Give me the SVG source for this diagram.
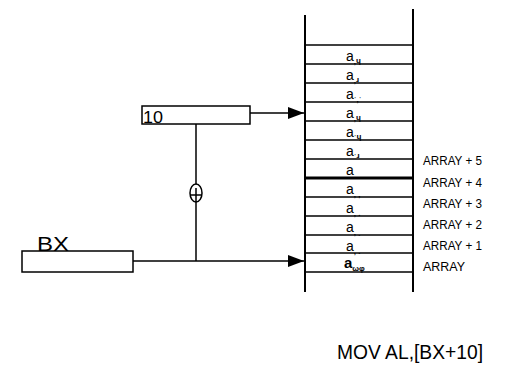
<svg xmlns="http://www.w3.org/2000/svg" width="518" height="373" viewBox="0 0 518 373">
<defs>
<style>
.ln{stroke:#000;stroke-width:1.5;fill:none}
.col{stroke:#000;stroke-width:2;fill:none}
.box{stroke:#000;stroke-width:1.5;fill:#fff}
.t{font-family:"Liberation Sans",Arial,sans-serif;fill:#000}
.a{font-family:"Liberation Sans",Arial,sans-serif;font-size:14px;fill:#000}
.s{font-size:8px;font-weight:bold}
.lbl{font-family:"Liberation Sans",Arial,sans-serif;font-size:12.5px;fill:#000}
</style>
<marker id="ah" markerWidth="16" markerHeight="12" refX="16" refY="6" orient="auto" markerUnits="userSpaceOnUse">
<path d="M0,0 L16,6 L0,12 Z" fill="#000"/>
</marker>
</defs>
<rect width="518" height="373" fill="#fff"/>
<g id="memory">
<line class="col" x1="305" y1="15" x2="305" y2="292"/>
<line class="col" x1="413" y1="9" x2="413" y2="292"/>
<g class="ln">
<line x1="305" y1="45" x2="413" y2="45"/>
<line x1="305" y1="64" x2="413" y2="64"/>
<line x1="305" y1="83" x2="413" y2="83"/>
<line x1="305" y1="102" x2="413" y2="102"/>
<line x1="305" y1="121" x2="413" y2="121"/>
<line x1="305" y1="140" x2="413" y2="140"/>
<line x1="305" y1="159" x2="413" y2="159"/>
<line x1="305" y1="178" x2="413" y2="178" stroke-width="3"/>
<line x1="305" y1="197" x2="413" y2="197"/>
<line x1="305" y1="216" x2="413" y2="216"/>
<line x1="305" y1="235" x2="413" y2="235"/>
<line x1="305" y1="253" x2="413" y2="253"/>
<line x1="305" y1="272" x2="413" y2="272"/>
</g>
<text class="a" x="346" y="61">a<tspan class="s" dy="3">,</tspan><tspan class="s" dy="-1">ɥ</tspan></text>
<text class="a" x="346" y="80">a<tspan class="s" dy="3">,</tspan><tspan class="s" dy="-1">ɹ</tspan></text>
<text class="a" x="346" y="99">a<tspan class="s" dy="3">ˈ,ˈ</tspan></text>
<text class="a" x="346" y="118">a<tspan class="s" dy="3">,</tspan><tspan class="s" dy="-1">ɥ</tspan></text>
<text class="a" x="346" y="137">a<tspan class="s" dy="3">ˈ</tspan><tspan class="s" dy="-1">ɥ</tspan></text>
<text class="a" x="346" y="156">a<tspan class="s" dy="3">ˈ</tspan><tspan class="s" dy="-1">ɹ</tspan></text>
<text class="a" x="346" y="175">a</text>
<text class="a" x="346" y="194">a<tspan class="s" dy="3">, ,</tspan></text>
<text class="a" x="346" y="213">a<tspan class="s" dy="3">, .</tspan></text>
<text class="a" x="346" y="232">a<tspan class="s" dy="3">, ˎ</tspan></text>
<text class="a" x="346" y="251">a<tspan class="s" dy="3">, .</tspan></text>
<text class="a" x="344" y="268" style="font-size:15px;font-weight:bold">a<tspan class="s" dy="3">ωφ</tspan></text>
</g>
<g id="labels">
<text class="lbl" x="423" y="165" textLength="59" lengthAdjust="spacingAndGlyphs">ARRAY + 5</text>
<text class="lbl" x="423" y="187" textLength="59" lengthAdjust="spacingAndGlyphs">ARRAY + 4</text>
<text class="lbl" x="423" y="208" textLength="59" lengthAdjust="spacingAndGlyphs">ARRAY + 3</text>
<text class="lbl" x="423" y="229" textLength="59" lengthAdjust="spacingAndGlyphs">ARRAY + 2</text>
<text class="lbl" x="423" y="250" textLength="59" lengthAdjust="spacingAndGlyphs">ARRAY + 1</text>
<text class="lbl" x="423" y="271" textLength="42" lengthAdjust="spacingAndGlyphs">ARRAY</text>
</g>
<g id="disp">
<rect class="box" x="142" y="106" width="108" height="18"/>
<text class="t" x="143" y="123" style="font-size:16px" textLength="20" lengthAdjust="spacingAndGlyphs">10</text>
</g>
<g id="bx">
<rect class="box" x="22" y="251" width="111" height="21"/>
<text class="t" x="37" y="251" style="font-size:21px" textLength="32" lengthAdjust="spacingAndGlyphs">BX</text>
</g>
<g id="adder">
<ellipse class="ln" cx="196" cy="193" rx="6" ry="9"/>
<line class="ln" x1="196" y1="188" x2="196" y2="202"/>
<line class="ln" x1="191" y1="195" x2="201" y2="195"/>
</g>
<g id="connectors">
<line class="ln" x1="250" y1="113" x2="304" y2="113" marker-end="url(#ah)"/>
<line class="ln" x1="133" y1="261" x2="304" y2="261" marker-end="url(#ah)"/>
<line class="ln" x1="196" y1="124" x2="196" y2="184"/>
<line class="ln" x1="196" y1="202" x2="196" y2="261"/>
</g>
<text class="t" x="337" y="359" style="font-size:21px" textLength="146" lengthAdjust="spacingAndGlyphs">MOV AL,[BX+10]</text>
</svg>
